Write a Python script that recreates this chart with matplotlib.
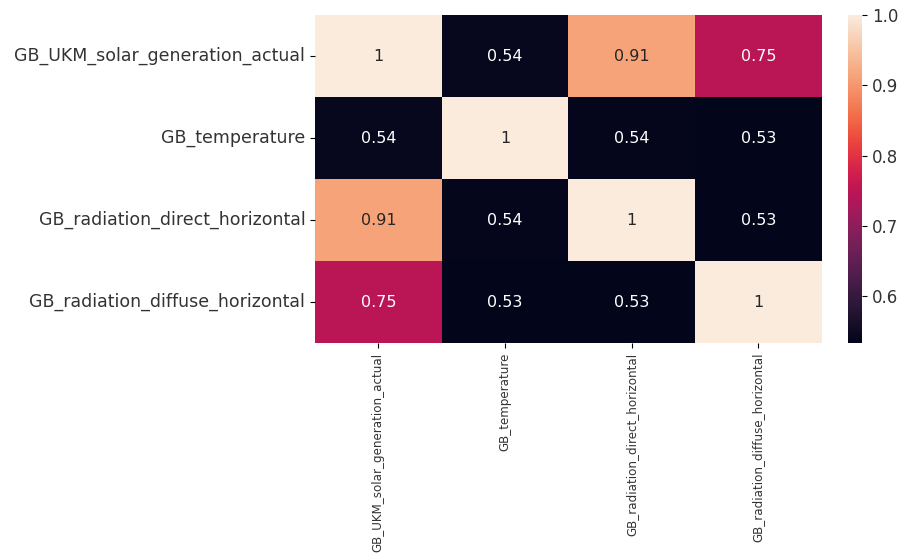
import matplotlib
matplotlib.use("Agg")
import matplotlib.pyplot as plt
import seaborn as sns
import numpy as np
import pandas as pd

# column names and correlation values
cols = ["GB_UKM_solar_generation_actual", "GB_temperature",
        "GB_radiation_direct_horizontal", "GB_radiation_diffuse_horizontal"]
row_solar = [1.0, 0.541, 0.913, 0.748]
row_temp = [0.541, 1.0, 0.538, 0.534]
row_direct = [0.913, 0.538, 1.0, 0.533]
row_diffuse = [0.748, 0.534, 0.533, 1.0]

corr = pd.DataFrame([row_solar, row_temp, row_direct, row_diffuse],
                    index=cols, columns=cols)

fig = plt.figure(figsize=(9.13, 5.56), dpi=100)
ax = fig.add_axes([0.345, 0.383, 0.555, 0.590])
cax = fig.add_axes([0.929, 0.383, 0.0153, 0.590])

sns.heatmap(corr, annot=True, ax=ax, cbar_ax=cax,
            annot_kws={"fontsize": 11.5})

ax.tick_params(axis="y", labelsize=12.5, labelcolor="#333333")
ax.tick_params(axis="x", labelsize=8.6, labelcolor="#333333")
plt.setp(ax.get_yticklabels(), rotation=0)
plt.setp(ax.get_xticklabels(), rotation=90)
cax.tick_params(labelsize=12, labelcolor="#333333")

fig.savefig("out.png", dpi=100)
